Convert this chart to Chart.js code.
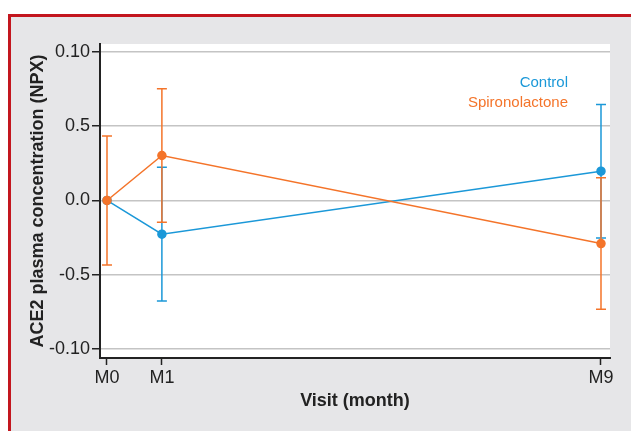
<!DOCTYPE html>
<html>
<head>
<meta charset="utf-8">
<script src="https://cdn.jsdelivr.net/npm/chart.js@4"></script>
<style>
  body { margin: 0; background: #fff; }
  #panel {
    position: absolute; left: 8px; top: 14px; width: 700px; height: 500px;
    background: #e6e6e8; border-left: 3px solid #c3161e; border-top: 3px solid #c3161e;
  }
  #wrap { position: absolute; left: 0; top: 0; width: 631px; height: 431px; }
</style>
</head>
<body>
<div id="panel"></div>
<div id="wrap"><canvas id="grafico" width="631" height="431"></canvas></div>
<script>
const months = [0, 1, 9];
const monthLabels = ['M0', 'M1', 'M9'];

const controlMean = [0, -0.0227, 0.0197];
const controlErr = [0, 0.045, 0.045];
const spiroMean = [0, 0.0303, -0.029];
const spiroErr = [0.0435, 0.045, 0.0443];

const yTickValues = [-0.1, -0.05, 0, 0.05, 0.1];
const yTickLabels = ['-0.10', '-0.5', '0.0', '0.5', '0.10'];

const azul = '#1b98d8';
const laranja = '#f4742a';
const fonte = "'Liberation Sans Narrow', 'Liberation Sans', Arial, sans-serif";

const errosPorSerie = [controlErr, spiroErr];

// fundo branco da area do grafico
const fundoBranco = {
  id: 'fundoBranco',
  beforeDraw(chart) {
    const a = chart.chartArea;
    chart.ctx.save();
    chart.ctx.fillStyle = '#fff';
    chart.ctx.fillRect(a.left, a.top, a.right - a.left, a.bottom - a.top);
    chart.ctx.restore();
  }
};

// barras de erro desenhadas pelas escalas
const barrasErro = {
  id: 'barrasErro',
  beforeDatasetDraw(chart, args) {
    const ds = chart.data.datasets[args.index];
    const erros = errosPorSerie[args.index];
    const x = chart.scales.x, y = chart.scales.y;
    const ctx = chart.ctx;
    ctx.save();
    ctx.strokeStyle = ds.borderColor;
    ctx.lineWidth = 1.5;
    ds.data.forEach((p, i) => {
      if (!erros[i]) return;
      const px = x.getPixelForValue(p.x);
      const top = y.getPixelForValue(p.y + erros[i]);
      const bot = y.getPixelForValue(p.y - erros[i]);
      ctx.beginPath();
      ctx.moveTo(px, top); ctx.lineTo(px, bot);
      ctx.moveTo(px - 5, top); ctx.lineTo(px + 5, top);
      ctx.moveTo(px - 5, bot); ctx.lineTo(px + 5, bot);
      ctx.stroke();
    });
    ctx.restore();
  }
};

// legenda so com texto, no canto
const legendaTexto = {
  id: 'legendaTexto',
  afterDraw(chart) {
    const a = chart.chartArea;
    const ctx = chart.ctx;
    ctx.save();
    ctx.font = '15px ' + fonte;
    ctx.textAlign = 'right';
    ctx.textBaseline = 'alphabetic';
    ctx.fillStyle = azul;
    ctx.fillText('Control', a.right - 42, a.top + 43);
    ctx.fillStyle = laranja;
    ctx.fillText('Spironolactone', a.right - 42, a.top + 63);
    ctx.restore();
  }
};

const ctx = document.getElementById('grafico');

new Chart(ctx, {
  type: 'scatter',
  data: {
    datasets: [{
      label: 'Control',
      data: months.map((m, i) => ({ x: m, y: controlMean[i] })),
      borderColor: azul,
      backgroundColor: azul,
      showLine: true,
      borderWidth: 1.5,
      pointRadius: 4,
      pointHoverRadius: 4,
      order: 1
    },
    {
      label: 'Spironolactone',
      data: months.map((m, i) => ({ x: m, y: spiroMean[i] })),
      borderColor: laranja,
      backgroundColor: laranja,
      showLine: true,
      borderWidth: 1.5,
      pointRadius: 4,
      pointHoverRadius: 4,
      order: 0
    }]
  },
  plugins: [fundoBranco, barrasErro, legendaTexto],
  options: {
    responsive: false,
    animation: false,
    devicePixelRatio: 1,
    layout: { padding: { left: 0, top: 44, right: 21, bottom: 0 } },
    plugins: { legend: { display: false }, tooltip: { enabled: false } },
    scales: {
      x: {
        type: 'linear',
        min: -0.1275,
        max: 9.164,
        afterBuildTicks: (s) => { s.ticks = months.map(v => ({ value: v })); },
        afterFit: (s) => { s.height = 73; },
        ticks: {
          callback: (v) => monthLabels[months.indexOf(v)],
          color: '#222',
          font: { family: fonte, size: 18 },
          padding: 2,
          maxRotation: 0
        },
        grid: { drawOnChartArea: false, tickColor: '#222', tickLength: 7, tickWidth: 1.5 },
        border: { color: '#222', width: 2 },
        title: {
          display: true,
          text: 'Visit (month)',
          color: '#222',
          font: { family: fonte, size: 18, weight: 'bold' },
          padding: { top: 0, bottom: 19 }
        }
      },
      y: {
        min: -0.1061,
        max: 0.1054,
        afterBuildTicks: (s) => { s.ticks = yTickValues.map(v => ({ value: v })); },
        afterFit: (s) => { s.width = 100; },
        ticks: {
          callback: (v) => yTickLabels[yTickValues.indexOf(v)],
          color: '#222',
          font: { family: fonte, size: 18 },
          padding: 2
        },
        grid: { color: '#c4c4c4', lineWidth: 1.5, tickColor: '#222', tickLength: 8, tickWidth: 1.5 },
        border: { color: '#222', width: 2 },
        title: {
          display: true,
          text: 'ACE2 plasma concentration (NPX)',
          color: '#222',
          font: { family: fonte, size: 18, weight: 'bold' },
          padding: { top: 27, bottom: 0 }
        }
      }
    }
  }
});
</script>
</body>
</html>
